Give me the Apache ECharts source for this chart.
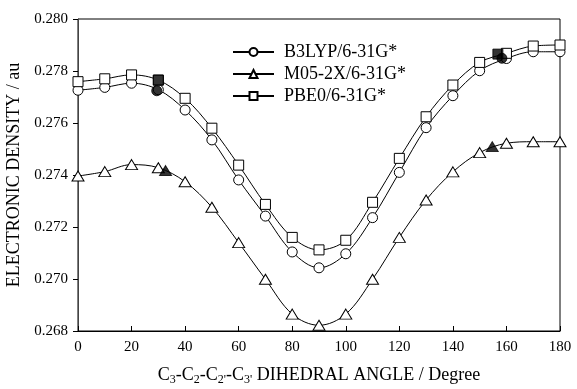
<!DOCTYPE html>
<html><head><meta charset="utf-8">
<script src="https://cdn.jsdelivr.net/npm/echarts@6/dist/echarts.min.js"></script>
<style>html,body{margin:0;padding:0;background:#fff}#c{width:577px;height:389px}</style>
</head><body><div id="c"></div>
<script>
var angles = [0,10,20,30,40,50,60,70,80,90,100,110,120,130,140,150,160,170,180];
var b3lyp = [0.27726,0.27737,0.27753,0.27728,0.27650,0.27535,0.27381,0.27242,0.27104,0.27043,0.27097,0.27236,0.27410,0.27582,0.27705,0.27801,0.27848,0.27874,0.27874];
var m052x = [0.27396,0.27413,0.27440,0.27428,0.27374,0.27276,0.27140,0.26999,0.26865,0.26822,0.26865,0.26999,0.27160,0.27304,0.27412,0.27486,0.27522,0.27528,0.27528];
var pbe0  = [0.27759,0.27770,0.27785,0.27765,0.27695,0.27580,0.27438,0.27287,0.27160,0.27112,0.27149,0.27295,0.27464,0.27624,0.27746,0.27833,0.27868,0.27896,0.27900];
var blackCircle = [[29.4,0.27724],[158.3,0.27849]];
var blackSquare = [[30.0,0.27765],[156.8,0.27865]];
var blackTriangle = [[32.7,0.27417],[154.7,0.27509]];
var seriesNames = ['B3LYP/6-31G*','M05-2X/6-31G*','PBE0/6-31G*'];
var xTicks = {min:0,max:180,step:20};
var yTicks = {min:0.268,max:0.280,step:0.002};

function pairs(vals){return angles.map(function(a,i){return [a,vals[i]];});}
var font = 'Liberation Serif';
function lineSeries(name, vals, symbol, size){
  return {name:name,type:'line',data:pairs(vals),smooth:0.35,symbol:symbol,symbolSize:size,
    showAllSymbol:true,lineStyle:{color:'#000',width:1},
    itemStyle:{color:'#fff',borderColor:'#000',borderWidth:1},z:2};
}
function blackSeries(data, symbol, size){
  return {type:'scatter',data:data,symbol:symbol,symbolSize:size,
    itemStyle:{color:'#000',borderColor:'#000',borderWidth:1},z:5,silent:true};
}
var chart = echarts.init(document.getElementById('c'),null,{renderer:'canvas'});
chart.setOption({
  animation:false,
  backgroundColor:'#fff',
  grid:{left:78,right:17,top:19,bottom:58,containLabel:false,outerBoundsMode:'none',show:true,borderColor:'#000',borderWidth:1,backgroundColor:'transparent'},
  legend:{orient:'vertical',left:232,top:43,padding:0,itemGap:4,itemWidth:41,itemHeight:10,
    data:seriesNames,textStyle:{fontFamily:font,fontSize:18,color:'#000',padding:[0,0,0,5]}},
  xAxis:{type:'value',min:xTicks.min,max:xTicks.max,interval:xTicks.step,
    axisLine:{lineStyle:{color:'#000',width:1}},
    axisTick:{inside:true,length:5,lineStyle:{color:'#000'}},
    axisLabel:{fontFamily:font,fontSize:15,color:'#000',margin:9},
    splitLine:{show:false},
    name:'{n|C}{s|3}{n|-C}{s|2}{n|-C}{s|2\'}{n|-C}{s|3\'}{n| DIHEDRAL ANGLE / Degree}',
    nameLocation:'middle',nameGap:33,
    nameTextStyle:{rich:{n:{fontFamily:font,fontSize:18,color:'#000'},s:{fontFamily:font,fontSize:12,color:'#000',padding:[10,0,0,0]}}}},
  yAxis:{type:'value',min:yTicks.min,max:yTicks.max,interval:yTicks.step,
    axisLine:{show:true,lineStyle:{color:'#444',width:1}},
    axisTick:{show:true,inside:false,length:5,lineStyle:{color:'#000'}},
    axisLabel:{fontFamily:font,fontSize:15,color:'#000',margin:10,formatter:function(v){return v.toFixed(3);}},
    splitLine:{show:false},
    name:'ELECTRONIC DENSITY / au',nameLocation:'middle',nameGap:51,
    nameTextStyle:{fontFamily:font,fontSize:18,color:'#000'}},
  series:[
    lineSeries(seriesNames[0],b3lyp,'circle',10),
    lineSeries(seriesNames[1],m052x,'triangle',[12,10]),
    lineSeries(seriesNames[2],pbe0,'rect',10),
    blackSeries(blackSquare,'rect',10),
    blackSeries(blackCircle,'circle',10),
    blackSeries(blackTriangle,'triangle',[12,10])
  ]
});
</script></body></html>
